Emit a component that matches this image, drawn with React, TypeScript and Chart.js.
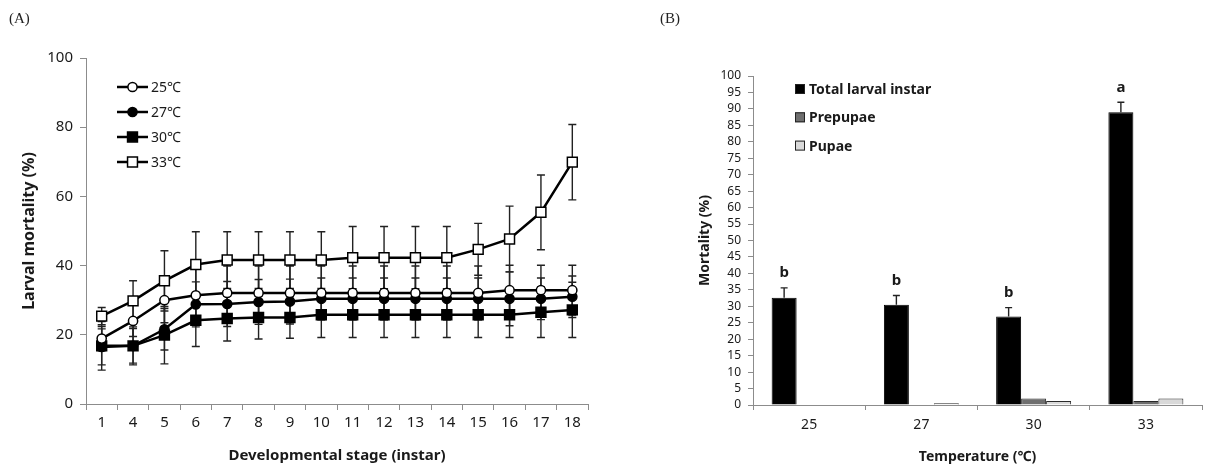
import React, { useEffect, useRef } from 'react';
import { Chart, registerables } from 'chart.js';

Chart.register(...registerables);

// ---------- Panel A data ----------
const stages = ['1', '4', '5', '6', '7', '8', '9', '10', '11', '12', '13', '14', '15', '16', '17', '18'];
const mean25 = [18.9, 24.0, 30.0, 31.4, 32.1, 32.1, 32.1, 32.1, 32.1, 32.1, 32.1, 32.1, 32.1, 32.9, 32.9, 32.9];
const err25 = [3.5, 4.5, 6.5, 7.5, 7.8, 7.8, 7.8, 7.8, 7.8, 7.8, 7.8, 7.8, 7.8, 7.2, 7.2, 7.2];
const mean27 = [16.5, 16.8, 21.6, 28.8, 28.9, 29.5, 29.6, 30.4, 30.4, 30.4, 30.4, 30.4, 30.4, 30.4, 30.4, 31.0];
const err27 = [5.2, 5.0, 6.0, 6.5, 6.5, 6.5, 6.5, 6.0, 6.0, 6.0, 6.0, 6.0, 6.0, 7.8, 6.0, 6.0];
const mean30 = [16.8, 16.8, 19.9, 24.2, 24.7, 25.0, 25.0, 25.8, 25.8, 25.8, 25.8, 25.8, 25.8, 25.8, 26.5, 27.2];
const err30 = [7.0, 5.5, 8.3, 7.6, 6.5, 6.2, 6.0, 6.6, 6.6, 6.6, 6.6, 6.6, 6.6, 6.6, 7.3, 8.0];
const mean33 = [25.4, 29.8, 35.6, 40.3, 41.6, 41.6, 41.6, 41.6, 42.3, 42.3, 42.3, 42.3, 44.7, 47.7, 55.4, 69.9];
const err33 = [2.5, 5.8, 8.7, 9.5, 8.2, 8.2, 8.2, 8.2, 9.0, 9.0, 9.0, 9.0, 7.5, 9.5, 10.8, 10.9];
const seriesA = ['25℃', '27℃', '30℃', '33℃'];
const ticksA = [0, 20, 40, 60, 80, 100];

// ---------- Panel B data ----------
const temps = ['25', '27', '30', '33'];
const totalLarval = [32.6, 30.5, 26.9, 89.0];
const totalLarvalErr = [3.0, 2.8, 2.7, 3.0];
const prepupae = [0, 0, 2.0, 1.2];
const pupae = [0, 0.5, 1.2, 2.0];
const sigLetters = ['b', 'b', 'b', 'a'];
const seriesB = ['Total larval instar', 'Prepupae', 'Pupae'];
const ticksB = [0, 5, 10, 15, 20, 25, 30, 35, 40, 45, 50, 55, 60, 65, 70, 75, 80, 85, 90, 95, 100];

const FONT = '"Noto Sans", "DejaVu Sans", sans-serif';
const TXT = '#1a1a1a';
const AXIS = '#8c8c8c';

function drawMarker(ctx: CanvasRenderingContext2D, style: string, x: number, y: number, r: number, fill: string) {
  ctx.save();
  ctx.fillStyle = fill;
  ctx.strokeStyle = '#000';
  ctx.lineWidth = 1.5;
  ctx.beginPath();
  if (style === 'rect') {
    const s = r * Math.SQRT1_2;
    ctx.rect(x - s, y - s, 2 * s, 2 * s);
  } else {
    ctx.arc(x, y, r, 0, Math.PI * 2);
  }
  ctx.fill();
  ctx.stroke();
  ctx.restore();
}

const errorBarsA = {
  id: 'errorBarsA',
  beforeDatasetsDraw(chart: any) {
    const ctx = chart.ctx;
    const y = chart.scales.y;
    ctx.save();
    ctx.strokeStyle = '#222';
    ctx.lineWidth = 1.4;
    chart.data.datasets.forEach((ds: any, i: number) => {
      const meta = chart.getDatasetMeta(i);
      meta.data.forEach((pt: any, j: number) => {
        const m = ds.data[j];
        const e = ds.errors[j];
        const yt = y.getPixelForValue(m + e);
        const yb = y.getPixelForValue(m - e);
        ctx.beginPath();
        ctx.moveTo(pt.x, yt);
        ctx.lineTo(pt.x, yb);
        ctx.moveTo(pt.x - 4, yt);
        ctx.lineTo(pt.x + 4, yt);
        ctx.moveTo(pt.x - 4, yb);
        ctx.lineTo(pt.x + 4, yb);
        ctx.stroke();
      });
    });
    ctx.restore();
  },
};

const legendA = {
  id: 'legendA',
  afterDraw(chart: any) {
    const ctx = chart.ctx;
    ctx.save();
    chart.data.datasets.forEach((ds: any, i: number) => {
      const y = 87 + i * 25;
      ctx.strokeStyle = '#000';
      ctx.lineWidth = 2.5;
      ctx.beginPath();
      ctx.moveTo(117, y);
      ctx.lineTo(148, y);
      ctx.stroke();
      drawMarker(ctx, ds.pointStyle, 132.5, y, ds.pointRadius, ds.pointBackgroundColor);
      ctx.fillStyle = TXT;
      ctx.font = `14px ${FONT}`;
      ctx.textBaseline = 'middle';
      ctx.textAlign = 'left';
      ctx.fillText(ds.label, 151, y + 1);
    });
    ctx.restore();
  },
};

const errorBarsB = {
  id: 'errorBarsB',
  afterDatasetsDraw(chart: any) {
    const ctx = chart.ctx;
    const y = chart.scales.y;
    const meta = chart.getDatasetMeta(0);
    ctx.save();
    ctx.strokeStyle = '#222';
    ctx.lineWidth = 1.4;
    meta.data.forEach((bar: any, j: number) => {
      const top = y.getPixelForValue(totalLarval[j] + totalLarvalErr[j]);
      const base = y.getPixelForValue(totalLarval[j]);
      ctx.beginPath();
      ctx.moveTo(bar.x, base);
      ctx.lineTo(bar.x, top);
      ctx.moveTo(bar.x - 3.5, top);
      ctx.lineTo(bar.x + 3.5, top);
      ctx.stroke();
      ctx.fillStyle = TXT;
      ctx.font = `bold 15px ${FONT}`;
      ctx.textAlign = 'center';
      ctx.textBaseline = 'middle';
      ctx.fillText(sigLetters[j], bar.x, top - 15);
    });
    ctx.restore();
  },
};

const legendB = {
  id: 'legendB',
  afterDraw(chart: any) {
    const ctx = chart.ctx;
    ctx.save();
    chart.data.datasets.forEach((ds: any, i: number) => {
      const y = 89 + i * 28.3;
      const x = 795 - 640;
      ctx.fillStyle = ds.backgroundColor;
      ctx.strokeStyle = '#222';
      ctx.lineWidth = 1;
      ctx.fillRect(x, y - 5, 10, 10);
      ctx.strokeRect(x + 0.5, y - 4.5, 9, 9);
      ctx.fillStyle = TXT;
      ctx.font = `bold 14px ${FONT}`;
      ctx.textBaseline = 'middle';
      ctx.textAlign = 'left';
      ctx.fillText(ds.label, x + 14, y + 1);
    });
    ctx.restore();
  },
};

function PanelA() {
  const ref = useRef<HTMLCanvasElement>(null);
  useEffect(() => {
    const styles = ['circle', 'circle', 'rect', 'rect'];
    const fills = ['#ffffff', '#000000', '#000000', '#ffffff'];
    const radii = [4.6, 4.6, 7, 7];
    const means = [mean25, mean27, mean30, mean33];
    const errs = [err25, err27, err30, err33];
    const chart = new Chart(ref.current!, {
      type: 'line',
      data: {
        labels: stages,
        datasets: seriesA.map((label, i) => ({
          label,
          data: means[i],
          errors: errs[i],
          borderColor: '#000',
          borderWidth: 2.5,
          pointStyle: styles[i],
          pointRadius: radii[i],
          pointBackgroundColor: fills[i],
          pointBorderColor: '#000',
          pointBorderWidth: 1.5,
          tension: 0,
        })) as any,
      },
      options: {
        animation: false,
        responsive: false,
        events: [],
        layout: { padding: { left: 0, top: 58, right: 32, bottom: 0 } },
        plugins: { legend: { display: false }, tooltip: { enabled: false } },
        scales: {
          x: {
            type: 'category',
            offset: true,
            grid: { offset: true, drawOnChartArea: false, drawTicks: true, tickLength: 6, color: AXIS },
            border: { display: true, color: AXIS, width: 1 },
            ticks: { font: { family: FONT, size: 15 }, color: TXT, padding: 4, maxRotation: 0, autoSkip: false },
            title: {
              display: true,
              text: 'Developmental stage (instar)',
              font: { family: FONT, size: 15, weight: 'bold' },
              color: TXT,
              padding: { top: 0, bottom: 4 },
            },
            afterFit: (s: any) => { s.height = 65; },
          },
          y: {
            min: 0,
            max: 100,
            afterBuildTicks: (s: any) => { s.ticks = ticksA.map((v) => ({ value: v })); },
            grid: { drawOnChartArea: false, drawTicks: true, tickLength: 6, color: AXIS },
            border: { display: true, color: AXIS, width: 1 },
            ticks: { font: { family: FONT, size: 15 }, color: TXT, padding: 7, autoSkip: false },
            title: {
              display: true,
              text: 'Larval mortality (%)',
              font: { family: FONT, size: 16, weight: 'bold' },
              color: TXT,
              padding: { top: 20, bottom: 0 },
            },
            afterFit: (s: any) => { s.width = 86; },
          },
        },
      } as any,
      plugins: [errorBarsA, legendA],
    });
    return () => chart.destroy();
  }, []);
  return <canvas ref={ref} width={620} height={469} style={{ position: 'absolute', left: 0, top: 0 }} />;
}

function PanelB() {
  const ref = useRef<HTMLCanvasElement>(null);
  useEffect(() => {
    const colors = ['#000000', '#6e6e6e', '#d9d9d9'];
    const values = [totalLarval, prepupae, pupae];
    const chart = new Chart(ref.current!, {
      type: 'bar',
      data: {
        labels: temps,
        datasets: seriesB.map((label, i) => ({
          label,
          data: values[i],
          backgroundColor: colors[i],
          borderColor: i === 0 ? '#000' : '#2a2a2a',
          borderWidth: 1,
          borderSkipped: 'bottom',
          categoryPercentage: 0.668,
          barPercentage: 1.0,
        })) as any,
      },
      options: {
        animation: false,
        responsive: false,
        events: [],
        layout: { padding: { left: 0, top: 76, right: 21, bottom: 0 } },
        plugins: { legend: { display: false }, tooltip: { enabled: false } },
        scales: {
          x: {
            grid: { offset: true, drawOnChartArea: false, drawTicks: true, tickLength: 5, color: AXIS },
            border: { display: true, color: AXIS, width: 1 },
            ticks: { font: { family: FONT, size: 14 }, color: TXT, padding: 7, maxRotation: 0 },
            title: {
              display: true,
              text: 'Temperature (℃)',
              font: { family: FONT, size: 14, weight: 'bold' },
              color: TXT,
              padding: { top: 0, bottom: 4 },
            },
            afterFit: (s: any) => { s.height = 64; },
          },
          y: {
            min: 0,
            max: 100,
            afterBuildTicks: (s: any) => { s.ticks = ticksB.map((v) => ({ value: v })); },
            ticks: { font: { family: FONT, size: 12, lineHeight: 1 }, color: TXT, padding: 7, autoSkip: false },
            grid: { drawOnChartArea: false, drawTicks: true, tickLength: 5, color: AXIS },
            border: { display: true, color: AXIS, width: 1 },
            title: {
              display: true,
              text: 'Mortality (%)',
              font: { family: FONT, size: 14, weight: 'bold' },
              color: TXT,
              padding: { top: 57, bottom: 0 },
            },
            afterFit: (s: any) => { s.width = 113; },
          },
        },
      } as any,
      plugins: [errorBarsB, legendB],
    });
    return () => chart.destroy();
  }, []);
  return <canvas ref={ref} width={583} height={469} style={{ position: 'absolute', left: 640, top: 0 }} />;
}

export default function App() {
  const label: React.CSSProperties = {
    position: 'absolute',
    top: 9,
    fontFamily: '"Liberation Serif", "DejaVu Serif", serif',
    fontSize: 15,
    color: '#222',
    lineHeight: '18px',
  };
  return (
    <div style={{ position: 'fixed', left: 0, top: 0, width: 1223, height: 469, background: '#fff', overflow: 'hidden' }}>
      <PanelA />
      <PanelB />
      <div style={{ ...label, left: 9 }}>(A)</div>
      <div style={{ ...label, left: 660 }}>(B)</div>
    </div>
  );
}
